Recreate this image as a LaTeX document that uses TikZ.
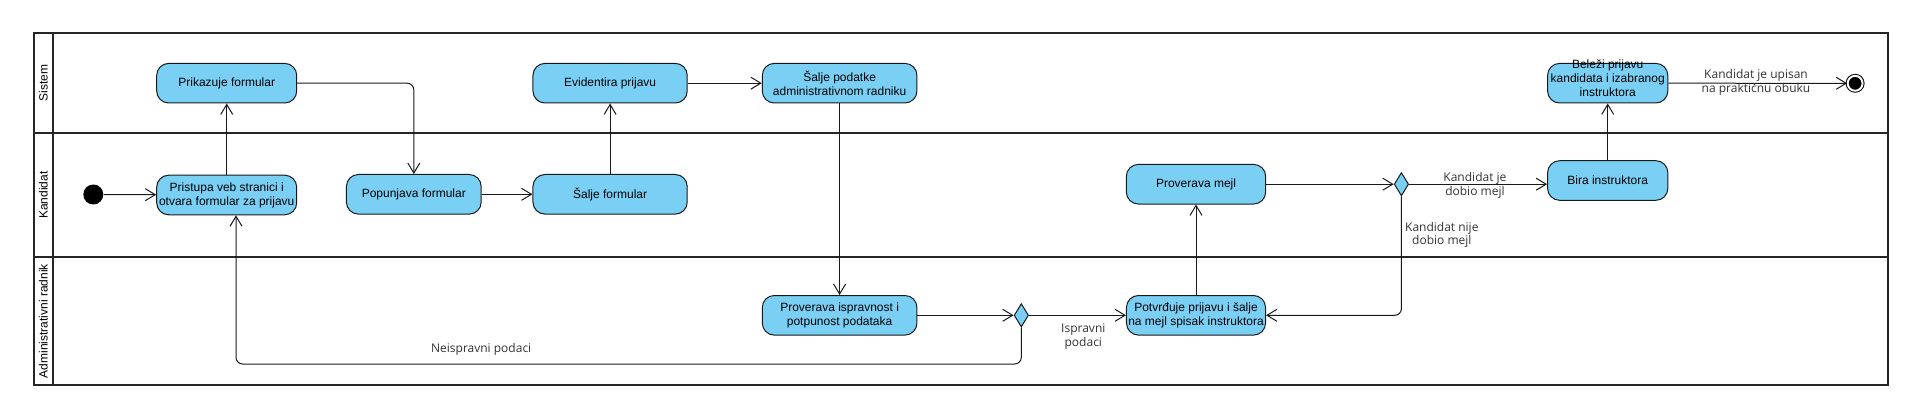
\documentclass[tikz,border=0pt]{standalone}
\usepackage{fontspec}
\setmainfont{Liberation Sans}
\newfontfamily\lblfont{Open Sans}
\usetikzlibrary{arrows.meta,shapes.geometric}

\definecolor{actblue}{RGB}{122,207,245}
\definecolor{guardgray}{RGB}{51,51,51}

\tikzset{every picture/.style={line width=0.75pt}}
\tikzset{
  act/.style={draw=black!90, fill=actblue, rounded corners=9pt, minimum height=29.7pt, inner sep=1pt, align=center, font=\fontsize{9}{10.5}\selectfont},
  decision/.style={draw=black!90, fill=actblue, diamond, minimum width=10.8pt, minimum height=17.5pt, inner sep=0pt},
  flow/.style={draw=black!90, -{Straight Barb[length=7.5pt,width=9pt]}},
  guard/.style={text=guardgray, align=center, inner sep=0.75pt, font=\lblfont\fontsize{9}{10.2}\selectfont},
  lane/.style={draw=black!85, line width=1.5pt},
  lanetext/.style={rotate=90, inner sep=0.75pt, font=\fontsize{9}{10.5}\selectfont}
}

\begin{document}
\begin{tikzpicture}[x=0.75pt,y=0.75pt,yscale=-1]
\path[use as bounding box] (0,0) rectangle (1926,417);

%Shape: Swimlanes
\draw[lane] (34,33.3) rectangle (1887.5,385);
\draw[lane] (52.7,33.3) -- (52.7,385);
\draw[lane] (34,133.3) -- (1887.5,133.3);
\draw[lane] (34,257.3) -- (1887.5,257.3);

% Text Node
\node[lanetext] (sistem) at (43.3,83.3) {Sistem};
% Text Node
\node[lanetext] (kandidat) at (43.3,195.3) {Kandidat};
% Text Node
\node[lanetext] (admin) at (43.3,321.2) {Administrativni radnik};

%Shape: Circle
\node[circle, fill=black, minimum size=15pt, inner sep=0pt] (start) at (93.3,194.5) {};
%Shape: Circle
\node[circle, draw=black, fill=black, double=white, double distance=1.45pt, minimum size=11.2pt, inner sep=0pt] (kraj) at (1855.1,83.3) {};

%Shape: Rounded Rectangle
\node[act, minimum width=105pt] (prikazuje) at (226.7,83.2) {Prikazuje formular};
\node[act, minimum width=105pt] (pristupa) at (226.7,195) {Pristupa veb stranici i\\otvara formular za prijavu};
\node[act, minimum width=101.1pt] (popunjava) at (413.8,194.3) {Popunjava formular};
\node[act, minimum width=115.7pt] (saljeform) at (610.1,194.3) {Šalje formular};
\node[act, minimum width=115.7pt] (evidentira) at (610.1,83.2) {Evidentira prijavu};
\node[act, minimum width=116pt] (saljepod) at (839.6,83.2) {Šalje podatke\\administrativnom radniku};
\node[act, minimum width=116pt] (proverava) at (839.6,315.3) {Proverava ispravnost i\\potpunost podataka};
\node[act, minimum width=104.3pt] (potvrdjuje) at (1196,315.3) {Potvrđuje prijavu i šalje\\na mejl spisak instruktora};
\node[act, minimum width=104.5pt] (mejl) at (1196,184.2) {Proverava mejl};
\node[act, minimum width=90.2pt] (bira) at (1607.7,180.5) {Bira instruktora};
\node[act, minimum width=90.2pt] (belezi) at (1607.7,83.2) {\smash{\begin{tabular}{@{}c@{}}Beleži prijavu\\kandidata i izabranog\\instruktora\end{tabular}}};

%Shape: Diamond
\node[decision] (odluka1) at (1021.3,315.3) {};
\node[decision] (odluka2) at (1401.4,184.2) {};

%Straight Lines
\draw[flow] (start) -- (pristupa);
\draw[flow] (pristupa) -- (prikazuje);
\draw[flow, rounded corners=5pt] (prikazuje.east) -| (popunjava.north);
\draw[flow] (popunjava) -- (saljeform);
\draw[flow] (saljeform) -- (evidentira);
\draw[flow] (evidentira) -- (saljepod);
\draw[flow] (saljepod) -- (proverava);
\draw[flow] (proverava) -- (odluka1);
\draw[flow] (odluka1) -- (potvrdjuje);
\coordinate (povratak) at (236,364);
\draw[flow, rounded corners=5pt] (odluka1.south) |- (povratak) -- (povratak |- pristupa.south);
\draw[flow] (potvrdjuje) -- (mejl);
\draw[flow] (mejl) -- (odluka2);
\draw[flow] (odluka2.east) -- (odluka2.east -| bira.west);
\draw[flow, rounded corners=5pt] (odluka2.south) |- (potvrdjuje.east);
\draw[flow] (bira) -- (belezi);
\draw[flow] (belezi) -- (kraj);

% Text Node
\node[guard] (neispravni) at (481.2,349.3) {Neispravni podaci};
% Text Node
\node[guard] (ispravni) at (1083.3,336.7) {Ispravni\\podaci};
% Text Node
\node[guard] (dobio) at (1474.9,185.3) {Kandidat je\\dobio mejl};
% Text Node
\node[guard] (nijedobio) at (1441.8,235) {Kandidat nije\\dobio mejl};
% Text Node
\node[guard] (upisan) at (1756,82.5) {Kandidat je upisan\\na praktičnu obuku};

\end{tikzpicture}
\end{document}
